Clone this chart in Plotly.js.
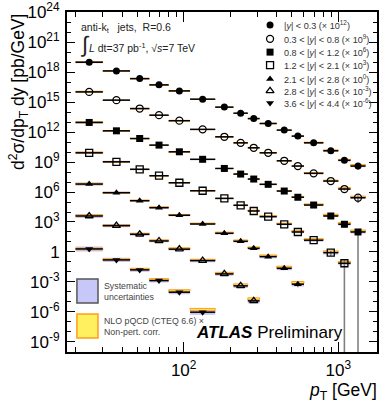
<!DOCTYPE html>
<html><head><meta charset="utf-8">
<script src="https://cdn.plot.ly/plotly-3.0.1.min.js"></script>
<style>html,body{margin:0;padding:0;background:#fff}#chart{width:384px;height:404px}</style>
</head><body><div id="chart"></div>
<script>
// pT bin edges [GeV]
const binEdges = [20,30,45,60,80,110,160,210,260,310,400,500,600,800,1000,1200,1500];
// rapidity bins and scale factors (powers of ten)
const rapLabels = ['|<i>y</i>| < 0.3','0.3 < |<i>y</i>| < 0.8','0.8 < |<i>y</i>| < 1.2','1.2 < |<i>y</i>| < 2.1','2.1 < |<i>y</i>| < 2.8','2.8 < |<i>y</i>| < 3.6','3.6 < |<i>y</i>| < 4.4'];
const scaleExp = [12, 9, 6, 3, 0, -3, -6];
const symbols = ['circle','circle-open','square','square-open','triangle-up','triangle-up-open','triangle-down'];

// measured cross sections d2sigma/dpT dy [pb/GeV] (unscaled)
const xsec1 = [1.0e7,1.35e6,2.3e5,5.4e4,1.35e4,2.0e3,3.2e2,79,23,7.4,1.6,0.40,0.085,0.0135,1.5e-3,4.0e-4];
const xsec2 = [1.07e7,1.6e6,2.3e5,5.0e4,1.4e4,1.9e3,3.4e2,85,27,8.5,1.35,0.40,0.074,0.0126,2.0e-3,2.7e-4];
const xsec3 = [9.3e6,1.35e6,2.3e5,5.0e4,1.07e4,1.9e3,2.3e2,63,20,5.9,1.26,0.30,0.050,4.0e-3,5.9e-4,1.0e-4];
const xsec4 = [8.5e6,1.07e6,1.9e5,4.3e4,8.5e3,1.35e3,2.3e2,47,12.6,3.4,0.59,0.10,0.015,8.5e-4,7.4e-5];
const xsec5 = [6.3e6,8.5e5,1.35e5,2.7e4,4.7e3,6.3e2,74,11.7,2.3,0.34,0.023,5.9e-4];
const xsec6 = [4.0e6,4.3e5,5.9e4,1.26e4,1.9e3,1.35e2,6.3,0.40,0.0126];
const xsec7 = [2.0e6,1.6e5,1.6e4,1.35e3,93,0.93];

// relative systematic uncertainties
const sys1 = [0.25,0.18,0.14,0.12,0.11,0.1,0.1,0.1,0.11,0.12,0.13,0.15,0.17,0.2,0.25,0.3];
const sys2 = [0.25,0.18,0.14,0.12,0.11,0.1,0.1,0.11,0.12,0.13,0.14,0.16,0.18,0.22,0.27,0.32];
const sys3 = [0.28,0.2,0.15,0.13,0.12,0.12,0.12,0.13,0.14,0.15,0.17,0.2,0.25,0.3,0.35,0.45];
const sys4 = [0.35,0.25,0.2,0.17,0.16,0.16,0.17,0.19,0.21,0.24,0.28,0.33,0.4,0.5,0.6];
const sys5 = [0.45,0.32,0.26,0.24,0.24,0.26,0.3,0.34,0.4,0.48,0.6,0.75];
const sys6 = [0.6,0.45,0.38,0.36,0.38,0.42,0.5,0.6,0.8];
const sys7 = [0.8,0.6,0.55,0.55,0.6,0.8];

// relative statistical uncertainties
const stat1 = [0,0,0,0,0,0,0,0,0,0,0.01,0.02,0.04,0.1,0.3,0.6];
const stat2 = [0,0,0,0,0,0,0,0,0,0,0.01,0.02,0.05,0.12,0.3,0.7];
const stat3 = [0,0,0,0,0,0,0,0,0,0.01,0.02,0.04,0.08,0.25,0.5,1.0];
const stat4 = [0,0,0,0,0,0,0,0,0.01,0.02,0.04,0.1,0.2,0.5,1.0];
const stat5 = [0,0,0,0,0,0,0.01,0.02,0.04,0.1,0.2,0.5];
const stat6 = [0,0,0,0,0.01,0.02,0.05,0.1,0.3];
const stat7 = [0,0,0.01,0.02,0.05,0.2];

// NLO pQCD (CTEQ 6.6) x non-pert. corr. : ratio to data and relative uncertainty
const nlo1 = [1.05,1.0,1.0,1.0,1.0,1.0,1.0,1.0,1.0,1.0,1.0,1.05,1.05,1.1,1.1,1.2];
const nlo2 = [1.05,1.0,1.0,1.0,1.0,1.0,1.0,1.0,1.05,1.05,1.05,1.1,1.1,1.1,1.2,1.2];
const nlo3 = [1.05,1.0,1.0,1.0,1.0,1.0,1.05,1.05,1.05,1.1,1.1,1.1,1.15,1.3,1.3,1.3];
const nlo4 = [1.05,1.0,1.0,1.05,1.05,1.05,1.1,1.1,1.1,1.15,1.15,1.2,1.2,1.25,1.2];
const nlo5 = [1.05,1.0,1.05,1.1,1.1,1.1,1.15,1.2,1.2,1.25,1.35,1.5];
const nlo6 = [1.1,1.05,1.1,1.15,1.2,1.2,1.25,1.3,1.6];
const nlo7 = [1.0,1.1,1.25,1.35,1.5,1.9];
const nloUnc1 = [0.1,0.08,0.07,0.06,0.06,0.06,0.06,0.06,0.07,0.07,0.08,0.09,0.1,0.12,0.14,0.16];
const nloUnc2 = [0.1,0.08,0.07,0.06,0.06,0.06,0.06,0.07,0.07,0.08,0.08,0.09,0.1,0.12,0.15,0.18];
const nloUnc3 = [0.1,0.08,0.07,0.07,0.06,0.06,0.07,0.07,0.08,0.08,0.09,0.1,0.12,0.15,0.18,0.2];
const nloUnc4 = [0.12,0.09,0.08,0.08,0.08,0.08,0.09,0.09,0.1,0.11,0.12,0.14,0.17,0.2,0.25];
const nloUnc5 = [0.14,0.1,0.1,0.1,0.1,0.11,0.12,0.13,0.15,0.17,0.2,0.25];
const nloUnc6 = [0.16,0.12,0.12,0.12,0.13,0.14,0.16,0.2,0.25];
const nloUnc7 = [0.2,0.15,0.15,0.16,0.18,0.25];

// y axis labelled decades
const yTickExp = [24,21,18,15,12,9,6,3,0,-3,-6,-9];
const xTickVals = [100, 1000];
const xMinorVals = [20,30,40,50,60,70,80,90,200,300,400,500,600,700,800,900];

const xsecs = [xsec1,xsec2,xsec3,xsec4,xsec5,xsec6,xsec7];
const syss = [sys1,sys2,sys3,sys4,sys5,sys6,sys7];
const stats = [stat1,stat2,stat3,stat4,stat5,stat6,stat7];
const nlos = [nlo1,nlo2,nlo3,nlo4,nlo5,nlo6,nlo7];
const nloUncs = [nloUnc1,nloUnc2,nloUnc3,nloUnc4,nloUnc5,nloUnc6,nloUnc7];

const FONT = 'Liberation Sans, Arial, Helvetica, sans-serif';
const sysTraces = [], nloTraces = [], dataTraces = [];

xsecs.forEach((vals, s) => {
  const scale = Math.pow(10, scaleExp[s]);
  const bx = [], by = [], tx = [], ty = [];
  const xc = [], yc = [], exP = [], exM = [], eyP = [], eyM = [];
  vals.forEach((v, i) => {
    const lo = binEdges[i], hi = binEdges[i + 1];
    const c = Math.sqrt(lo * hi);
    const y = v * scale;
    const su = syss[s][i];
    bx.push(lo, hi, hi, lo, lo, null);
    by.push(y / (1 + su), y / (1 + su), y * (1 + su), y * (1 + su), y / (1 + su), null);
    const t = y * nlos[s][i], tu = nloUncs[s][i];
    tx.push(lo, hi, hi, lo, lo, null);
    ty.push(t / (1 + tu), t / (1 + tu), t * (1 + tu), t * (1 + tu), t / (1 + tu), null);
    xc.push(c); yc.push(y);
    exP.push(hi - c); exM.push(c - lo);
    eyP.push(y * stats[s][i]); eyM.push(y * stats[s][i]);
  });
  sysTraces.push({x: bx, y: by, type: 'scatter', mode: 'lines', fill: 'toself',
    fillcolor: '#c4c4f4', line: {width: 0, color: '#c4c4f4'}, hoverinfo: 'skip', showlegend: false});
  nloTraces.push({x: tx, y: ty, type: 'scatter', mode: 'lines', fill: 'toself',
    fillcolor: '#fff05a', line: {width: 1, color: '#ff9d1c'}, hoverinfo: 'skip', showlegend: false});
  const open = symbols[s].indexOf('open') >= 0;
  dataTraces.push({x: xc, y: yc, type: 'scatter', mode: 'markers', name: rapLabels[s],
    marker: {symbol: symbols[s], size: 7, color: 'black', line: {color: 'black', width: open ? 1.3 : 0}},
    error_x: {type: 'data', symmetric: false, array: exP, arrayminus: exM, width: 0, thickness: 1.5, color: 'black'},
    error_y: {type: 'data', symmetric: false, array: eyP, arrayminus: eyM, width: 0, thickness: 1.6, color: '#808080'},
    showlegend: false});
});

// legend markers on an overlay axis in paper-like units
const legRowY = [0.962,0.921,0.882,0.844,0.803,0.768,0.732];
const legendMarkers = {x: legRowY.map(() => 0.655), y: legRowY, xaxis: 'x2', yaxis: 'y2',
  type: 'scatter', mode: 'markers', hoverinfo: 'skip', showlegend: false,
  marker: {symbol: symbols, size: 7, color: 'black', line: {color: 'black', width: symbols.map(s => s.indexOf('open') >= 0 ? 1.3 : 0)}}};

const annotations = [];
rapLabels.forEach((lab, s) => {
  annotations.push({xref: 'paper', yref: 'paper', x: 0.693, y: legRowY[s], xanchor: 'left', yanchor: 'middle',
    showarrow: false, text: lab + ' (× 10<sup>' + scaleExp[s] + '</sup>)', font: {family: FONT, size: 9.1, color: '#333'}});
});
annotations.push(
  {xref:'paper',yref:'paper',x:0.04,y:0.953,xanchor:'left',yanchor:'middle',showarrow:false,
   text:'anti-k<sub>t</sub>   jets,  R=0.6',font:{family:FONT,size:10.5,color:'#222'}},
  {xref:'paper',yref:'paper',x:0.036,y:0.905,xanchor:'left',yanchor:'middle',showarrow:false,
   text:'∫',font:{family:FONT,size:22,color:'#222'}},
  {xref:'paper',yref:'paper',x:0.066,y:0.897,xanchor:'left',yanchor:'middle',showarrow:false,
   text:'<i>L</i> dt=37 pb<sup>-1</sup>, √<i>s</i>=7 TeV',font:{family:FONT,size:10.5,color:'#222'}},
  {xref:'paper',yref:'paper',x:0.113,y:0.178,xanchor:'left',yanchor:'middle',showarrow:false,align:'left',
   text:'Systematic<br>uncertainties',font:{family:FONT,size:8.8,color:'#444'}},
  {xref:'paper',yref:'paper',x:0.113,y:0.076,xanchor:'left',yanchor:'middle',showarrow:false,align:'left',
   text:'NLO pQCD (CTEQ 6.6) ×<br>Non-pert. corr.',font:{family:FONT,size:8.8,color:'#444'}},
  {xref:'paper',yref:'paper',x:0.41,y:0.056,xanchor:'left',yanchor:'middle',showarrow:false,
   text:'<b><i>ATLAS</i></b> Preliminary',font:{family:FONT,size:17,color:'black'}},
  {xref:'paper',yref:'paper',x:-0.158,y:1.0,xanchor:'center',yanchor:'top',textangle:-90,showarrow:false,
   text:'d<sup>2</sup>σ/dp<sub>T</sub> dy [pb/GeV]',font:{family:FONT,size:17.5,color:'black'}},
  {xref:'paper',yref:'paper',x:1.005,y:-0.117,xanchor:'right',yanchor:'middle',showarrow:false,
   text:'<i>p</i><sub>T</sub> [GeV]',font:{family:FONT,size:17.5,color:'black'}}
);

const shapes = [
  {type:'rect',xref:'paper',yref:'paper',x0:0.032,x1:0.1,y0:0.144,y1:0.215,
   fillcolor:'#c8c8f8',line:{color:'#555',width:1.5}},
  {type:'rect',xref:'paper',yref:'paper',x0:0.032,x1:0.1,y0:0.041,y1:0.112,
   fillcolor:'#fff060',line:{color:'#ff9d1c',width:1.5}}
];

const yMinor = [];
for (let e = -10; e <= 24; e++) if (e % 3 !== 0) yMinor.push(Math.pow(10, e));

const layout = {
  width: 384, height: 404,
  margin: {l: 67, r: 7, t: 12, b: 52},
  paper_bgcolor: 'white', plot_bgcolor: 'white',
  font: {family: FONT, color: 'black'},
  showlegend: false,
  xaxis: {type: 'log', range: [Math.log10(17.6), Math.log10(1780)], showgrid: false, zeroline: false,
    showline: true, linewidth: 2, linecolor: 'black', mirror: 'ticks',
    ticks: 'inside', ticklen: 10, tickwidth: 1, tickcolor: 'black',
    tickmode: 'array', tickvals: xTickVals, ticktext: ['10<sup>2</sup>','10<sup>3</sup>'],
    tickfont: {family: FONT, size: 17}, ticklabelstandoff: 2,
    minor: {tickmode: 'array', tickvals: xMinorVals, ticks: 'inside', ticklen: 5, tickcolor: 'black', tickwidth: 1}},
  yaxis: {type: 'log', range: [-10.02, 24.03], showgrid: false, zeroline: false,
    showline: true, linewidth: 2, linecolor: 'black', mirror: 'ticks',
    ticks: 'inside', ticklen: 8, tickwidth: 1, tickcolor: 'black',
    tickmode: 'array', tickvals: yTickExp.map(e => Math.pow(10, e)),
    ticktext: yTickExp.map(e => e === 0 ? '1' : '10<sup>' + e + '</sup>'),
    tickfont: {family: FONT, size: 17}, ticklabelstandoff: 2,
    minor: {tickmode: 'array', tickvals: yMinor, ticks: 'inside', ticklen: 4, tickcolor: 'black', tickwidth: 1}},
  xaxis2: {overlaying: 'x', anchor: 'y2', range: [0, 1], visible: false, fixedrange: true},
  yaxis2: {overlaying: 'y', anchor: 'x2', range: [0, 1], visible: false, fixedrange: true},
  annotations: annotations,
  shapes: shapes
};

Plotly.newPlot('chart', [...sysTraces, ...nloTraces, ...dataTraces, legendMarkers], layout,
  {displayModeBar: false, staticPlot: true});
</script>
</body></html>
